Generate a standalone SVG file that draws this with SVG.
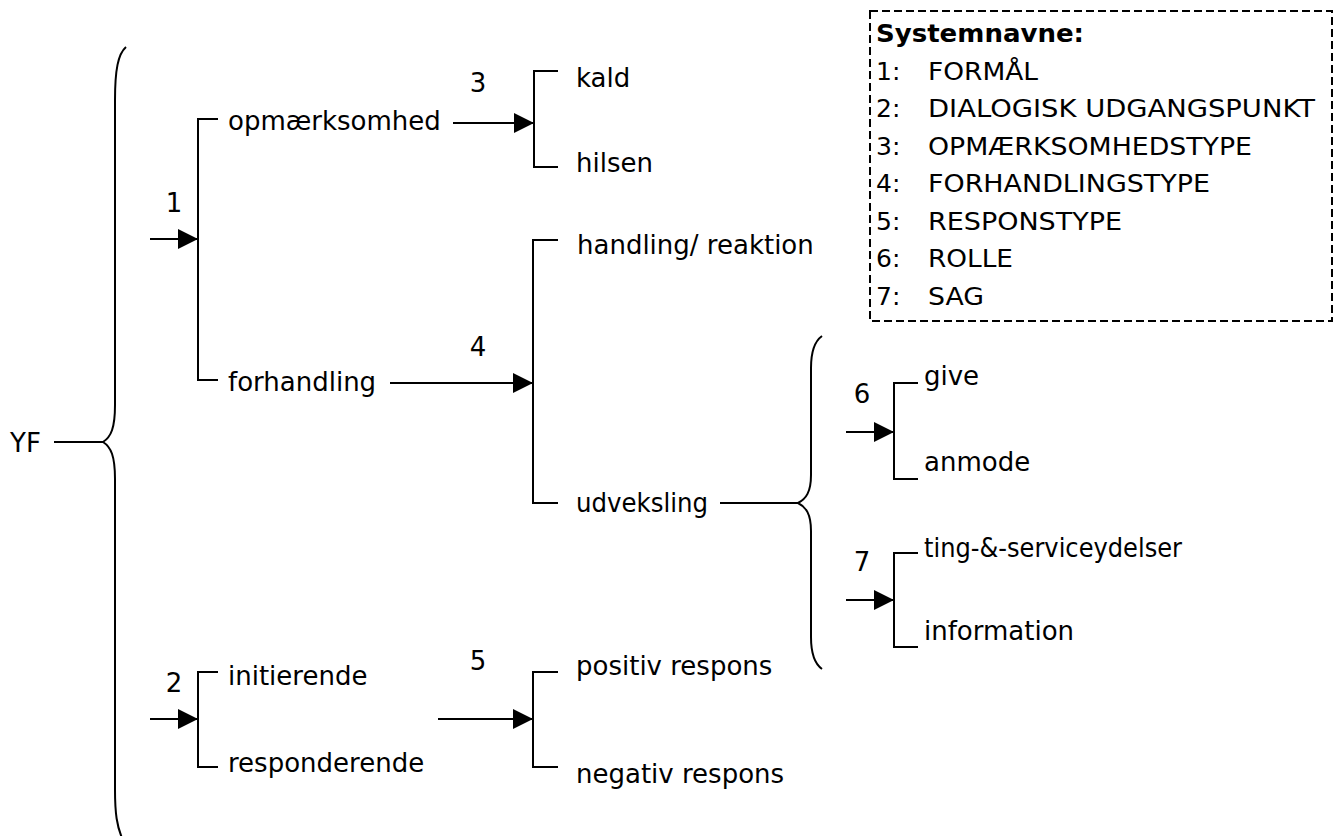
<svg xmlns="http://www.w3.org/2000/svg" width="1334" height="836" viewBox="0 0 1334 836">
  <style>
    text { font-family: "DejaVu Sans", Verdana, sans-serif; font-size: 26px; fill: #000; }
    .lg { font-size: 25px; }
    .b { font-weight: bold; }
    .ln { fill: none; stroke: #000; stroke-width: 2; }
    .br { fill: none; stroke: #000; stroke-width: 2; }
    .box { fill: #fff; stroke: #000; stroke-width: 2; stroke-dasharray: 8 4; }
  </style>
  <defs>
    <marker id="ah" viewBox="0 0 20 20" refX="20" refY="10" markerWidth="20" markerHeight="20" markerUnits="userSpaceOnUse" orient="auto">
      <path d="M0,0 L20,10 L0,20 Z" fill="#000"/>
    </marker>
  </defs>

  <rect width="1334" height="836" fill="#fff"/>

  <!-- legend -->
  <g id="legend" class="lg">
    <rect class="box" x="870" y="11" width="462" height="310"/>
    <text class="lg b" x="876" y="42" textLength="208" lengthAdjust="spacingAndGlyphs">Systemnavne:</text>
    <text class="lg" x="876" y="79.5">1:</text><text class="lg" x="928" y="79.5" textLength="110" lengthAdjust="spacingAndGlyphs">FORMÅL</text>
    <text class="lg" x="876" y="117">2:</text><text class="lg" x="928" y="117" textLength="387" lengthAdjust="spacingAndGlyphs">DIALOGISK UDGANGSPUNKT</text>
    <text class="lg" x="876" y="154.5">3:</text><text class="lg" x="928" y="154.5" textLength="324" lengthAdjust="spacingAndGlyphs">OPMÆRKSOMHEDSTYPE</text>
    <text class="lg" x="876" y="192">4:</text><text class="lg" x="928" y="192" textLength="282" lengthAdjust="spacingAndGlyphs">FORHANDLINGSTYPE</text>
    <text class="lg" x="876" y="229.5">5:</text><text class="lg" x="928" y="229.5" textLength="194" lengthAdjust="spacingAndGlyphs">RESPONSTYPE</text>
    <text class="lg" x="876" y="267">6:</text><text class="lg" x="928" y="267" textLength="85" lengthAdjust="spacingAndGlyphs">ROLLE</text>
    <text class="lg" x="876" y="304.5">7:</text><text class="lg" x="928" y="304.5" textLength="56" lengthAdjust="spacingAndGlyphs">SAG</text>
  </g>

  <!-- connectors: braces, brackets and arrows -->
  <g id="connectors">
    <!-- root brace -->
    <line class="ln" x1="54" y1="442" x2="103" y2="442"/>
    <path class="br" d="M126,47 C118,54 115,70 115,100 L115,405 C115,428 111,437 103,442 C111,447 115,456 115,479 L115,790 C115,814 117,826 122,838"/>
    <!-- system 1 -->
    <line class="ln" x1="150" y1="239" x2="198" y2="239" marker-end="url(#ah)"/>
    <path class="ln" d="M218,119 H198 V380 H218"/>
    <!-- system 2 -->
    <line class="ln" x1="150" y1="719" x2="198" y2="719" marker-end="url(#ah)"/>
    <path class="ln" d="M218,672 H198 V767 H218"/>
    <!-- system 3 -->
    <line class="ln" x1="453" y1="123" x2="534" y2="123" marker-end="url(#ah)"/>
    <path class="ln" d="M558,71 H534 V167 H558"/>
    <!-- system 4 -->
    <line class="ln" x1="390" y1="383" x2="533" y2="383" marker-end="url(#ah)"/>
    <path class="ln" d="M558,240 H533 V503 H558"/>
    <!-- system 5 -->
    <line class="ln" x1="438" y1="719" x2="533" y2="719" marker-end="url(#ah)"/>
    <path class="ln" d="M558,672 H533 V767 H558"/>
    <!-- udveksling brace -->
    <line class="ln" x1="720" y1="503" x2="798" y2="503"/>
    <path class="br" d="M822,336 C815,341 811,350 811,368 L811,475 C811,492 806,499 798,503 C806,507 811,514 811,531 L811,637 C811,655 815,664 822,669"/>
    <!-- system 6 -->
    <line class="ln" x1="846" y1="432" x2="894" y2="432" marker-end="url(#ah)"/>
    <path class="ln" d="M918,383 H894 V479 H918"/>
    <!-- system 7 -->
    <line class="ln" x1="846" y1="600" x2="894" y2="600" marker-end="url(#ah)"/>
    <path class="ln" d="M918,553 H894 V647 H918"/>
  </g>

  <!-- system numbers -->
  <g id="labels">
    <text x="174" y="212" text-anchor="middle">1</text>
    <text x="174" y="692" text-anchor="middle">2</text>
    <text x="478" y="92" text-anchor="middle">3</text>
    <text x="478" y="356" text-anchor="middle">4</text>
    <text x="478" y="670" text-anchor="middle">5</text>
    <text x="862" y="403" text-anchor="middle">6</text>
    <text x="862" y="571" text-anchor="middle">7</text>
  </g>

  <!-- terms -->
  <g id="n-yf"><text x="10" y="452">YF</text></g>
  <g id="n-opmaerksomhed"><text x="228" y="130">opmærksomhed</text></g>
  <g id="n-forhandling"><text x="228" y="391">forhandling</text></g>
  <g id="n-kald"><text x="576" y="87">kald</text></g>
  <g id="n-hilsen"><text x="576" y="172">hilsen</text></g>
  <g id="n-handling"><text x="577" y="254">handling/ reaktion</text></g>
  <g id="n-udveksling"><text x="576" y="512" textLength="132" lengthAdjust="spacingAndGlyphs">udveksling</text></g>
  <g id="n-initierende"><text x="228" y="685">initierende</text></g>
  <g id="n-responderende"><text x="228" y="772">responderende</text></g>
  <g id="n-positiv"><text x="576" y="675">positiv respons</text></g>
  <g id="n-negativ"><text x="576" y="783">negativ respons</text></g>
  <g id="n-give"><text x="924" y="385">give</text></g>
  <g id="n-anmode"><text x="924" y="471">anmode</text></g>
  <g id="n-ting"><text x="924" y="557" textLength="258" lengthAdjust="spacingAndGlyphs">ting-&amp;-serviceydelser</text></g>
  <g id="n-information"><text x="924" y="640">information</text></g>
</svg>
